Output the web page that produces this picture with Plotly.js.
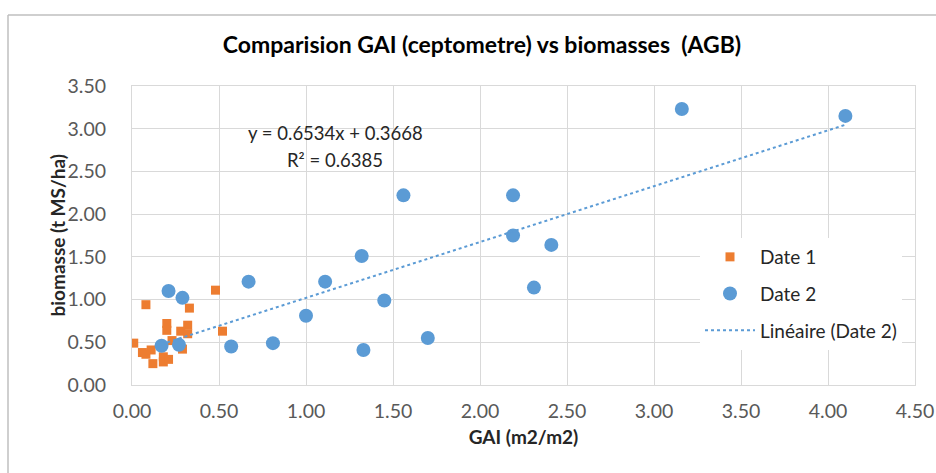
<!DOCTYPE html>
<html>
<head>
<meta charset="utf-8">
<script src="https://cdn.plot.ly/plotly-3.0.1.min.js"></script>
<style>html,body{margin:0;padding:0;background:#fff;}#chart{width:936px;height:473px;}</style>
</head>
<body>
<div id="chart"></div>
<script>
// Date 1 (orange squares)
var date1GAI = [0.48, 0.08, 0.33, 0.20, 0.20, 0.32, 0.28, 0.32, 0.52, 0.01, 0.23, 0.29, 0.08, 0.11, 0.12, 0.18, 0.18, 0.21, 0.06];
var date1Bio = [1.11, 0.94, 0.90, 0.72, 0.64, 0.70, 0.63, 0.60, 0.63, 0.49, 0.52, 0.42, 0.36, 0.41, 0.25, 0.33, 0.27, 0.30, 0.38];
// Date 2 (blue circles)
var date2GAI = [0.17, 0.27, 0.21, 0.29, 0.57, 0.67, 0.81, 1.00, 1.11, 1.32, 1.33, 1.45, 1.56, 1.70, 2.19, 2.19, 2.31, 2.41, 3.16, 4.10];
var date2Bio = [0.46, 0.47, 1.10, 1.02, 0.45, 1.21, 0.49, 0.81, 1.21, 1.51, 0.41, 0.99, 2.22, 0.55, 2.22, 1.75, 1.14, 1.64, 3.23, 3.15];
// Linear trend (Date 2), as given on the chart
var trendSlope = 0.6534;
var trendIntercept = 0.3668;
var trendR2 = 0.6385;

var xTicks = [0, 0.5, 1, 1.5, 2, 2.5, 3, 3.5, 4, 4.5];
var yTicks = [0, 0.5, 1, 1.5, 2, 2.5, 3, 3.5];

var xMin = Math.min.apply(null, date2GAI);
var xMax = Math.max.apply(null, date2GAI);
var trendX = [xMin, xMax];
var trendY = trendX.map(function (v) { return trendSlope * v + trendIntercept; });

var FONT = 'Lato, "Open Sans", sans-serif';
var ORANGE = '#ED7D31', BLUE = '#5B9BD5', GRID = '#D9D9D9', TXT = '#595959';

var traces = [
  {x: date1GAI, y: date1Bio, mode: 'markers', type: 'scatter', name: 'Date 1', legendgroup: 'a',
   marker: {symbol: 'square', size: 9, color: ORANGE}},
  {x: date2GAI, y: date2Bio, mode: 'markers', type: 'scatter', name: 'Date 2', legendgroup: 'b',
   marker: {symbol: 'circle', size: 14, color: BLUE}},
  {x: trendX, y: trendY, mode: 'lines', type: 'scatter', name: 'Linéaire (Date 2)', legendgroup: 'c',
   line: {color: BLUE, width: 2, dash: 'dot'}}
];

var L = 132, R = 21, T = 86, B = 88, W = 936, H = 473;
var pw = W - L - R, ph = H - T - B;
function px(x) { return (x - L) / pw; }
function py(y) { return (H - B - y) / ph; }

var fmt = function (v) { return v.toFixed(2); };

var layout = {
  width: W, height: H,
  margin: {l: L, r: R, t: T, b: B, pad: 0},
  paper_bgcolor: '#fff', plot_bgcolor: '#fff',
  font: {family: FONT, color: TXT},
  title: {text: '<b>Comparision GAI (ceptometre) vs biomasses  (AGB)</b>',
          font: {family: FONT, size: 23, color: '#000'},
          x: px(482), xref: 'paper', xanchor: 'center', y: 1 - 45 / H, yref: 'container', yanchor: 'middle'},
  xaxis: {range: [0, 4.5], tickvals: xTicks, ticktext: xTicks.map(fmt), showgrid: true, gridcolor: GRID, gridwidth: 1,
          zeroline: false, showline: true, linecolor: GRID, linewidth: 1, mirror: true, ticks: '',
          tickfont: {family: FONT, size: 19.5, color: TXT}, ticklabelstandoff: 9,
          title: {text: '<b>GAI (m2/m2)</b>', font: {family: FONT, size: 19, color: '#262626'}, standoff: 9},
          fixedrange: true},
  yaxis: {range: [0, 3.5], tickvals: yTicks, ticktext: yTicks.map(fmt), showgrid: true, gridcolor: GRID, gridwidth: 1,
          zeroline: false, showline: true, linecolor: GRID, linewidth: 1, mirror: true, ticks: '',
          tickfont: {family: FONT, size: 19.5, color: TXT}, ticklabelstandoff: 21,
          fixedrange: true},
  showlegend: true,
  legend: {x: px(700), y: py(238), xanchor: 'left', yanchor: 'top', bgcolor: '#fff', borderwidth: 0,
           font: {family: FONT, size: 19, color: '#262626'}, tracegroupgap: 9, itemwidth: 50},
  annotations: [
    {text: '<b>biomasse (t MS/ha)</b>', xref: 'paper', yref: 'paper', x: px(57), y: 0.5, textangle: -90,
     showarrow: false, xanchor: 'center', yanchor: 'middle', font: {family: FONT, size: 19, color: '#262626'}},
    {text: 'y = ' + trendSlope + 'x + ' + trendIntercept, xref: 'paper', yref: 'paper', x: px(335), y: py(133),
     showarrow: false, xanchor: 'center', yanchor: 'middle', font: {family: FONT, size: 18.5, color: '#262626'}},
    {text: 'R² = ' + trendR2, xref: 'paper', yref: 'paper', x: px(335), y: py(160),
     showarrow: false, xanchor: 'center', yanchor: 'middle', font: {family: FONT, size: 18.5, color: '#262626'}}
  ],
  shapes: [
    {type: 'line', xref: 'paper', yref: 'paper', x0: px(8), x1: px(8), y0: py(15), y1: py(480), line: {color: '#BFBFBF', width: 1.5}},
    {type: 'line', xref: 'paper', yref: 'paper', x0: px(8), x1: px(940), y0: py(15), y1: py(15), line: {color: '#BFBFBF', width: 1.5}}
  ]
};

Plotly.newPlot('chart', traces, layout, {displayModeBar: false, staticPlot: true});
</script>
</body>
</html>
